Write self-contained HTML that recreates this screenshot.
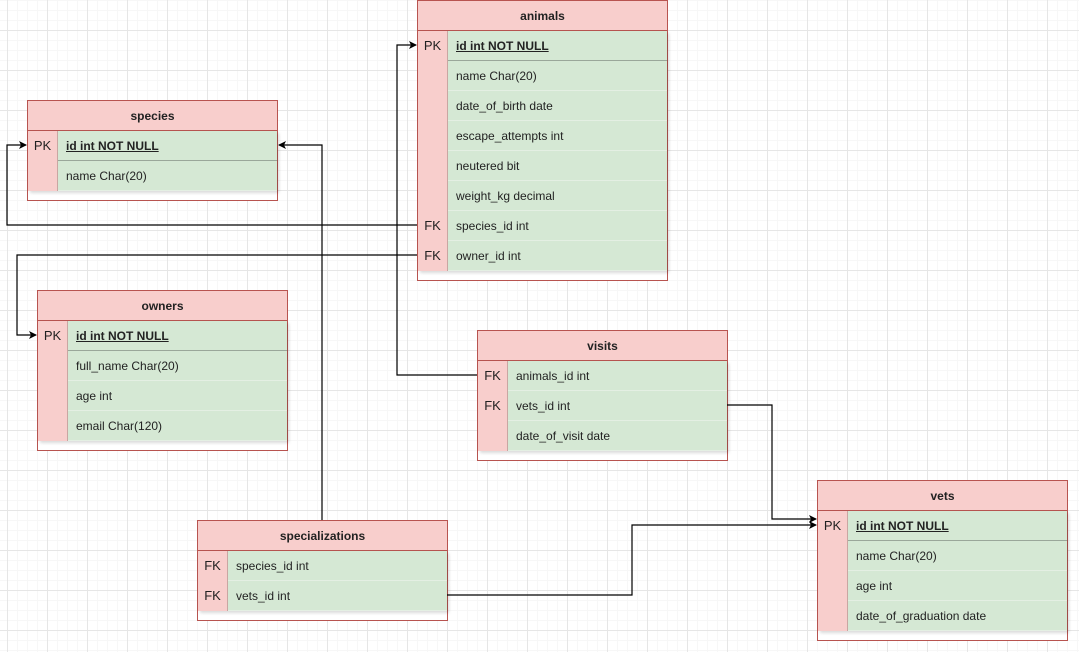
<!DOCTYPE html>
<html><head><meta charset="utf-8"><style>
html,body{margin:0;padding:0}
body{width:1079px;height:652px;position:relative;overflow:hidden;font-family:"Liberation Sans",Arial,sans-serif;font-size:12px;color:#222;
background-color:#fff;
background-image:linear-gradient(#e6e6e6 1px,transparent 1px),linear-gradient(90deg,#e6e6e6 1px,transparent 1px),linear-gradient(#f7f7f7 1px,transparent 1px),linear-gradient(90deg,#f7f7f7 1px,transparent 1px);
background-size:40px 40px,40px 40px,10px 10px,10px 10px;
background-position:0 30px,7px 0,0 0,7px 0;}
.t{position:absolute;width:251px;border:1px solid #b85450;box-sizing:border-box;background:#fff}
.h{height:30px;background:#f8cecc;line-height:30px;text-align:center;font-weight:bold;border-bottom:1px solid #b85450;box-sizing:border-box}
.r{height:30px;display:flex;box-shadow:2px 2px 3px rgba(0,0,0,.15)}
.k{width:30px;background:#f8cecc;line-height:30px;text-align:center;border-right:1px solid #c9a6a2;box-sizing:border-box;font-size:13px}
.v{flex:1;background:#d5e8d4;line-height:30px;padding-left:8px;border-bottom:1px solid #e4efe3}
.pk .v{font-weight:bold;text-decoration:underline;border-bottom:1px solid #9aa79a}
svg{position:absolute;left:0;top:0}
</style></head><body>
<svg width="1079" height="652" style="z-index:2">
<defs><marker id="a" markerWidth="8" markerHeight="8" refX="7" refY="4" orient="auto" markerUnits="userSpaceOnUse"><path d="M0,0 L8,4 L0,8 L2,4z" fill="#000"/></marker></defs>
<g fill="none" stroke="#000" stroke-width="1.2">
<polyline points="417,225 7,225 7,145 26,145" marker-end="url(#a)"/>
<polyline points="417,255 17,255 17,335 36,335" marker-end="url(#a)"/>
<polyline points="477,375 397,375 397,45 416,45" marker-end="url(#a)"/>
<polyline points="727,405 772,405 772,519 816,519" marker-end="url(#a)"/>
<polyline points="447,595 632,595 632,525 816,525" marker-end="url(#a)"/>
<polyline points="322,520 322,145 279,145" marker-end="url(#a)"/>
</g></svg>

<div class="t" style="left:417px;top:0;height:281px"><div class="h">animals</div>
<div class="r pk"><div class="k">PK</div><div class="v">id int NOT NULL</div></div>
<div class="r"><div class="k"></div><div class="v">name Char(20)</div></div>
<div class="r"><div class="k"></div><div class="v">date_of_birth date</div></div>
<div class="r"><div class="k"></div><div class="v">escape_attempts int</div></div>
<div class="r"><div class="k"></div><div class="v">neutered bit</div></div>
<div class="r"><div class="k"></div><div class="v">weight_kg decimal</div></div>
<div class="r"><div class="k">FK</div><div class="v">species_id int</div></div>
<div class="r"><div class="k">FK</div><div class="v">owner_id int</div></div></div>

<div class="t" style="left:27px;top:100px;height:101px"><div class="h">species</div>
<div class="r pk"><div class="k">PK</div><div class="v">id int NOT NULL</div></div>
<div class="r"><div class="k"></div><div class="v">name Char(20)</div></div></div>

<div class="t" style="left:37px;top:290px;height:161px"><div class="h">owners</div>
<div class="r pk"><div class="k">PK</div><div class="v">id int NOT NULL</div></div>
<div class="r"><div class="k"></div><div class="v">full_name Char(20)</div></div>
<div class="r"><div class="k"></div><div class="v">age int</div></div>
<div class="r"><div class="k"></div><div class="v">email Char(120)</div></div></div>

<div class="t" style="left:477px;top:330px;height:131px"><div class="h">visits</div>
<div class="r"><div class="k">FK</div><div class="v">animals_id int</div></div>
<div class="r"><div class="k">FK</div><div class="v">vets_id int</div></div>
<div class="r"><div class="k"></div><div class="v">date_of_visit date</div></div></div>

<div class="t" style="left:817px;top:480px;height:161px"><div class="h">vets</div>
<div class="r pk"><div class="k">PK</div><div class="v">id int NOT NULL</div></div>
<div class="r"><div class="k"></div><div class="v">name Char(20)</div></div>
<div class="r"><div class="k"></div><div class="v">age int</div></div>
<div class="r"><div class="k"></div><div class="v">date_of_graduation date</div></div></div>

<div class="t" style="left:197px;top:520px;height:101px"><div class="h">specializations</div>
<div class="r"><div class="k">FK</div><div class="v">species_id int</div></div>
<div class="r"><div class="k">FK</div><div class="v">vets_id int</div></div></div>
</body></html>
